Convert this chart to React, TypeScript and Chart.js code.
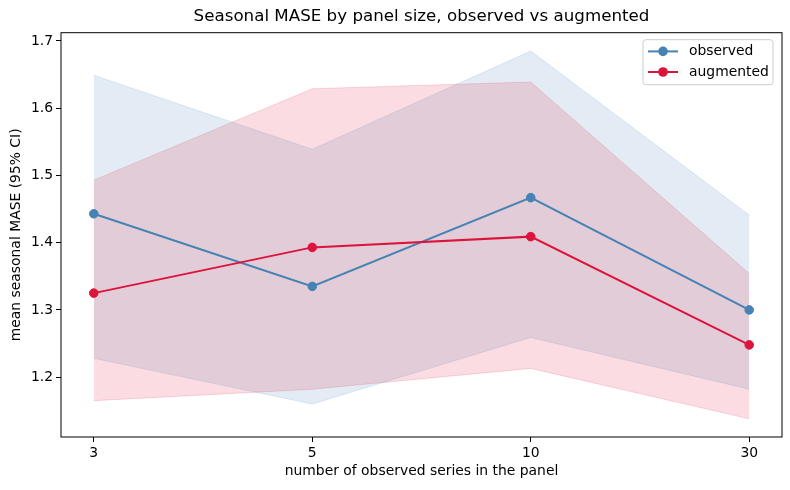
import { useEffect, useRef } from 'react';
import { Chart, registerables } from 'chart.js';

Chart.register(...registerables);

const panelSizes = ['3', '5', '10', '30'];

const observedMean = [1.443, 1.335, 1.467, 1.3];
const observedUpper = [1.649, 1.539, 1.685, 1.441];
const observedLower = [1.228, 1.16, 1.259, 1.182];

const augmentedMean = [1.325, 1.393, 1.409, 1.248];
const augmentedUpper = [1.493, 1.629, 1.639, 1.354];
const augmentedLower = [1.165, 1.182, 1.213, 1.138];

const yTicks = [1.2, 1.3, 1.4, 1.5, 1.6, 1.7];

const chartTitle = 'Seasonal MASE by panel size, observed vs augmented';

const BLUE = '#4682b4';
const RED = '#dc143c';
const BLUE_BAND = 'rgba(70, 130, 180, 0.15)';
const RED_BAND = 'rgba(220, 20, 60, 0.15)';
const FONT = 'DejaVu Sans';

const toPoints = (values: number[]) => values.map((y, i) => ({ x: i, y }));

// matplotlib style frame, title centred on the axes, and line+marker legend
const framePlugin = {
  id: 'frameAndLegend',
  afterDraw(chart: Chart) {
    const { ctx, chartArea } = chart;
    ctx.save();
    ctx.strokeStyle = '#000';
    ctx.lineWidth = 1;
    ctx.strokeRect(chartArea.left, chartArea.top, chartArea.right - chartArea.left, chartArea.bottom - chartArea.top);

    ctx.fillStyle = '#000';
    ctx.font = `16.7px "${FONT}"`;
    ctx.textAlign = 'center';
    ctx.textBaseline = 'middle';
    ctx.fillText(chartTitle, (chartArea.left + chartArea.right) / 2, 17);

    const entries = [
      { label: 'observed', color: BLUE },
      { label: 'augmented', color: RED },
    ];
    const boxW = 130;
    const boxH = 45;
    const bx = chartArea.right - 9 - boxW;
    const by = chartArea.top + 7;
    ctx.beginPath();
    ctx.roundRect(bx, by, boxW, boxH, 3);
    ctx.fillStyle = 'rgba(255,255,255,0.8)';
    ctx.fill();
    ctx.strokeStyle = '#cccccc';
    ctx.stroke();

    ctx.font = `13.9px "${FONT}"`;
    ctx.textAlign = 'left';
    ctx.textBaseline = 'middle';
    entries.forEach((e, i) => {
      const y = by + 11.7 + i * 20.6;
      ctx.strokeStyle = e.color;
      ctx.lineWidth = 2;
      ctx.beginPath();
      ctx.moveTo(bx + 5, y);
      ctx.lineTo(bx + 35, y);
      ctx.stroke();
      ctx.fillStyle = e.color;
      ctx.beginPath();
      ctx.arc(bx + 20, y, 4.8, 0, Math.PI * 2);
      ctx.fill();
      ctx.fillStyle = '#000';
      ctx.fillText(e.label, bx + 46, y);
    });
    ctx.restore();
  },
};

export default function App() {
  const canvasRef = useRef<HTMLCanvasElement>(null);
  const chartRef = useRef<Chart | null>(null);

  useEffect(() => {
    document.body.style.margin = '0';
    if (!canvasRef.current) return;
    if (chartRef.current) chartRef.current.destroy();

    const band = (data: number[], color: string, fill: any) => ({
      label: '',
      data: toPoints(data),
      borderColor: color,
      backgroundColor: color,
      borderWidth: 1,
      pointRadius: 0,
      fill,
    });

    const meanLine = (label: string, data: number[], color: string) => ({
      label,
      data: toPoints(data),
      borderColor: color,
      backgroundColor: color,
      borderWidth: 2,
      pointRadius: 4.3,
      pointBorderWidth: 1,
      pointBorderColor: color,
      pointBackgroundColor: color,
      fill: false,
    });

    chartRef.current = new Chart(canvasRef.current, {
      type: 'line',
      data: {
        datasets: [
          meanLine('augmented', augmentedMean, RED),
          meanLine('observed', observedMean, BLUE),
          band(augmentedUpper, RED_BAND, '+1'),
          band(augmentedLower, RED_BAND, false),
          band(observedUpper, BLUE_BAND, '+1'),
          band(observedLower, BLUE_BAND, false),
        ] as any,
      },
      options: {
        animation: false,
        responsive: true,
        maintainAspectRatio: false,
        layout: { padding: { left: 0, right: 8, top: 32.7, bottom: 0 } },
        elements: { line: { tension: 0 } },
        plugins: {
          legend: { display: false },
          tooltip: { enabled: false },
          filler: { drawTime: 'beforeDatasetsDraw' },
          title: { display: false },
        },
        scales: {
          x: {
            type: 'linear',
            min: -0.15,
            max: 3.15,
            afterBuildTicks: (scale: any) => {
              scale.ticks = panelSizes.map((_, i) => ({ value: i }));
            },
            afterFit: (scale: any) => {
              scale.height = 53;
            },
            grid: { drawOnChartArea: false, drawTicks: true, tickLength: 5, color: '#000' },
            border: { display: false },
            ticks: {
              color: '#000',
              padding: 3,
              maxRotation: 0,
              font: { family: FONT, size: 13.9 },
              callback: (value: any) => panelSizes[value] ?? '',
            },
            title: {
              display: true,
              text: 'number of observed series in the panel',
              color: '#000',
              font: { family: FONT, size: 13.9 },
              padding: { top: 0, bottom: 10 },
            },
          },
          y: {
            type: 'linear',
            min: 1.111,
            max: 1.7123,
            afterBuildTicks: (scale: any) => {
              scale.ticks = yTicks.map((v) => ({ value: v }));
            },
            afterFit: (scale: any) => {
              scale.width = 61;
            },
            grid: { drawOnChartArea: false, drawTicks: true, tickLength: 5, color: '#000' },
            border: { display: false },
            ticks: {
              color: '#000',
              padding: 3,
              font: { family: FONT, size: 13.9 },
              callback: (value: any) => Number(value).toFixed(1),
            },
            title: {
              display: true,
              text: 'mean seasonal MASE (95% CI)',
              color: '#000',
              font: { family: FONT, size: 13.9 },
              padding: { top: 8.5, bottom: 0 },
            },
          },
        },
      },
      plugins: [framePlugin],
    });

    return () => {
      if (chartRef.current) {
        chartRef.current.destroy();
        chartRef.current = null;
      }
    };
  }, []);

  return (
    <div style={{ position: 'relative', width: 790, height: 490 }}>
      <canvas ref={canvasRef}></canvas>
    </div>
  );
}
